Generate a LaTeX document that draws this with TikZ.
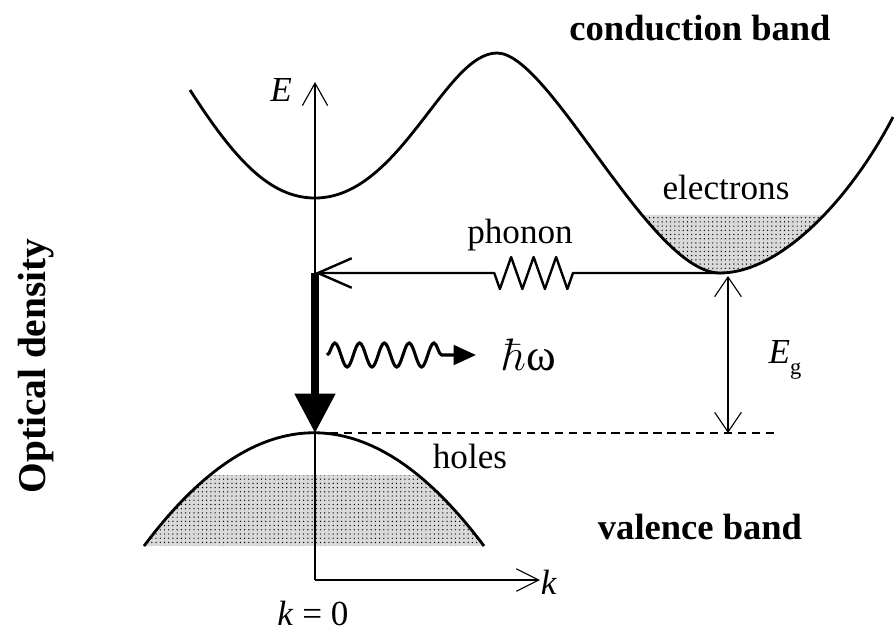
\documentclass[tikz,border=0pt]{standalone}
\usepackage{graphicx}
\usepackage[no-math]{fontspec}
\setmainfont{Liberation Serif}
\usetikzlibrary{arrows.meta,decorations.pathmorphing,patterns}

\begin{document}
\begin{tikzpicture}[x=0.25mm,y=-0.25mm,
        band/.style={line width=2pt},
        axis/.style={line width=0.8pt},
        dotfill/.style={preaction={fill=black!15}, pattern=dots, pattern color=black},
        lab/.style={font=\fontsize{25}{30}\selectfont},
        bandlab/.style={font=\fontsize{26}{30}\selectfont\bfseries}]
        \useasboundingbox (0,0) rectangle (894,631);
        % filled states
        \begin{scope}
            \clip (497,53) .. controls (550,53) and (650,273) .. (720,273)
                .. controls (780,273) and (850,200) .. (893,117) -- cycle;
            \fill[dotfill] (600,215) rectangle (860,280);
        \end{scope}
        \begin{scope}
            \clip (144,546) .. controls (257,395) and (371,395) .. (484,546) -- cycle;
            \fill[dotfill] (140,475) rectangle (490,546);
        \end{scope}
        % bands
        \draw[band] (190,90) .. controls (235,160) and (270,198) .. (315,198)
            .. controls (400,198) and (445,53) .. (497,53)
            .. controls (550,53) and (650,273) .. (720,273)
            .. controls (780,273) and (850,200) .. (893,117);
        \draw[band] (144,546) .. controls (257,395) and (371,395) .. (484,546);
        % points
        \coordinate (O) at (315,580);
        \coordinate (Etip) at (315,82);
        \coordinate (ktip) at (540,580);
        \coordinate (Xmin) at (722,273);
        \coordinate (Gph) at (315,273);
        \coordinate (Vtop) at (315,433);
        \coordinate (EgT) at (728,276);
        \coordinate (EgB) at (728,433);
        \coordinate (dashR) at (776,433);
        \coordinate (wA) at (327,355);
        \coordinate (wB) at (476,355);
        % axes
        \draw[axis, -{Straight Barb[length=16pt,width=18pt]}] (O) -- (Etip);
        \draw[axis, -{Straight Barb[length=16pt,width=16pt]}] (O) -- (ktip);
        % phonon and photon
        \draw[line width=1.7pt, line join=round, -{Straight Barb[length=24pt,width=21pt]}, decorate,
            decoration={zigzag, segment length=0.5625cm, amplitude=0.4cm, pre length=3.725cm, post length=4.2cm}] (Xmin) -- (Gph);
        \draw[line width=5pt, -{Triangle[length=28pt,width=28pt]}] (Gph) -- (Vtop);
        \draw[line width=2.2pt, -{Triangle[length=16pt,width=14pt]}, decorate,
            decoration={snake, segment length=0.62cm, amplitude=0.3cm, post length=0.55cm}] (wA) -- (wB);
        % gap
        \draw[axis, {Straight Barb[length=14pt,width=19pt]}-{Straight Barb[length=14pt,width=19pt]}] (EgT) -- (EgB);
        \draw[line width=0.9pt, dash pattern=on 6pt off 4pt, shorten <=0.375cm] (Vtop) -- (dashR);
        % labels
        \node[lab] (Elab) at (281,90) {\textit{E}};
        \node[lab] (klab) at (549,582) {\textit{k}};
        \node[lab] (k0) at (313,613) {\textit{k} = 0};
        \node[lab] (phlab) at (520,235) {phonon};
        \node[lab] (elab) at (726,187) {electrons};
        \node[lab] (hlab) at (470,456) {holes};
        \node[lab] (Eglab) at (785,360) {\textit{E}\raisebox{-0.3em}{\fontsize{16}{16}\selectfont g}};
        \node[font=\fontsize{32}{36}\selectfont] (hw) at (529,355) {\scalebox{1.3}{$\hbar$}ω};
        \node[bandlab] (cb) at (700,28) {conduction band};
        \node[bandlab] (vb) at (700,527) {valence band};
        \node[font=\fontsize{28}{32}\selectfont\bfseries, rotate=90] (od) at (36,366) {Optical density};
\end{tikzpicture}
\end{document}
